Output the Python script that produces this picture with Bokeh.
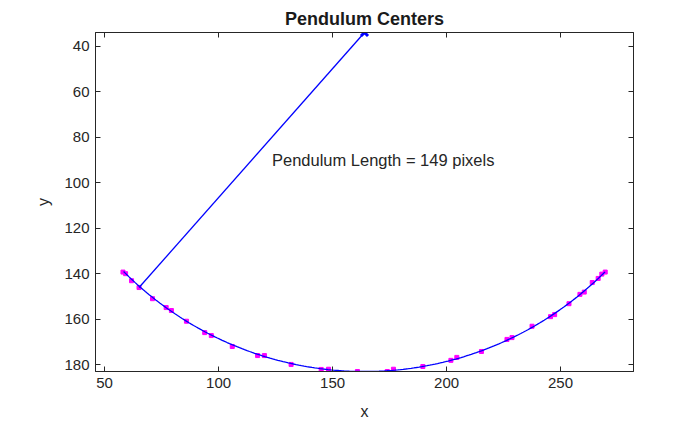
import numpy as np
from bokeh.plotting import figure
from bokeh.models import Range1d, LinearAxis, FixedTicker, Label
from bokeh.embed import file_html
from bokeh.resources import INLINE

# ---- data ----
pivot_x = [164.0]
pivot_y = [34.0]
pendulum_length = 149
bob_x = [65.1]
bob_y = [146.1]

center_x = [58.05, 59.2, 61.8, 65.1, 71.0, 77.0, 79.3, 85.9, 93.9, 96.8,
            106.0, 117.1, 120.1, 131.8, 145.0, 148.2, 160.9, 174.0, 176.7, 189.6,
            201.9, 204.5, 215.3, 226.5, 228.7, 237.5, 245.6, 247.4, 253.7, 258.5,
            260.4, 263.9, 266.5, 268.1, 269.6]
center_y = [139.3, 140.0, 143.1, 146.1, 151.0, 154.9, 156.2, 160.9, 165.9, 167.2,
            172.0, 176.0, 176.0, 179.9, 182.1, 182.0, 183.0, 183.0, 182.0, 180.8,
            178.1, 176.8, 174.2, 168.9, 168.1, 163.1, 158.9, 158.0, 153.2, 149.1,
            148.1, 143.9, 142.1, 140.2, 139.3]

x_ticks = [50, 100, 150, 200, 250]
y_ticks = [40, 60, 80, 100, 120, 140, 160, 180]

title_text = "Pendulum Centers"
annot_text = "Pendulum Length = %d pixels" % pendulum_length
annot_pos = (123.4, 90.0)

FONT = "Liberation Sans"
AX_COLOR = "#262626"

p = figure(frame_width=538, frame_height=339,
           x_range=Range1d(46.0, 282.0), y_range=Range1d(183.0, 34.0),
           output_backend="svg", toolbar_location=None,
           min_border_left=95, min_border_right=67, min_border_top=32, min_border_bottom=50,
           x_axis_label="x", y_axis_label="y")
p.background_fill_color = "white"
p.border_fill_color = "white"
p.grid.visible = False
p.outline_line_color = AX_COLOR
p.outline_line_width = 1

p.title.text = title_text
p.title.align = "center"
p.title.text_font = FONT
p.title.text_font_size = "18px"
p.title.text_font_style = "bold"
p.title.text_color = "#1a1a1a"
p.title.standoff = 8

def style_axis(ax, ticks, labels=True):
    ax.ticker = FixedTicker(ticks=ticks)
    ax.major_tick_in = 5
    ax.major_tick_out = 0
    ax.minor_tick_line_color = None
    ax.axis_line_color = AX_COLOR
    ax.major_tick_line_color = AX_COLOR
    ax.major_label_text_font = FONT
    ax.major_label_text_font_size = "15px"
    ax.major_label_text_color = AX_COLOR
    ax.axis_label_text_font = FONT
    ax.axis_label_text_font_size = "16px"
    ax.axis_label_text_font_style = "normal"
    ax.axis_label_text_color = AX_COLOR
    if not labels:
        ax.major_label_overrides = {float(t): "" for t in ticks}
        ax.major_label_text_font_size = "1px"
        ax.major_label_standoff = 0

style_axis(p.xaxis[0], x_ticks)
style_axis(p.yaxis[0], y_ticks)
p.xaxis[0].major_label_standoff = 6
p.xaxis[0].axis_label_standoff = 12
p.yaxis[0].major_label_standoff = 6
p.yaxis[0].axis_label_standoff = 9

top_ax = LinearAxis()
style_axis(top_ax, x_ticks, labels=False)
p.add_layout(top_ax, "above")
right_ax = LinearAxis()
style_axis(right_ax, y_ticks, labels=False)
p.add_layout(right_ax, "right")

# magenta centers
p.scatter(center_x, center_y, marker="square", size=4, fill_color="#ff00ff",
          line_color="#ff00ff")

# fitted arc
cx = np.array(center_x); cy = np.array(center_y)
ang = np.arctan2(cy - pivot_y[0], cx - pivot_x[0])
t = np.linspace(ang.min(), ang.max(), 200)
p.line(pivot_x[0] + pendulum_length * np.cos(t), pivot_y[0] + pendulum_length * np.sin(t),
       line_color="blue", line_width=1.3)

# pendulum rod and pivot marker
p.line([pivot_x[0], bob_x[0]], [pivot_y[0], bob_y[0]], line_color="blue", line_width=1.3)
p.scatter(pivot_x, pivot_y, marker="x", size=10, line_color="blue", line_width=3)

p.add_layout(Label(x=annot_pos[0], y=annot_pos[1], text=annot_text,
                   text_font=FONT, text_font_size="16.5px", text_color=AX_COLOR,
                   text_baseline="middle", text_align="left"))

open("out.html", "w").write(file_html(p, INLINE))
